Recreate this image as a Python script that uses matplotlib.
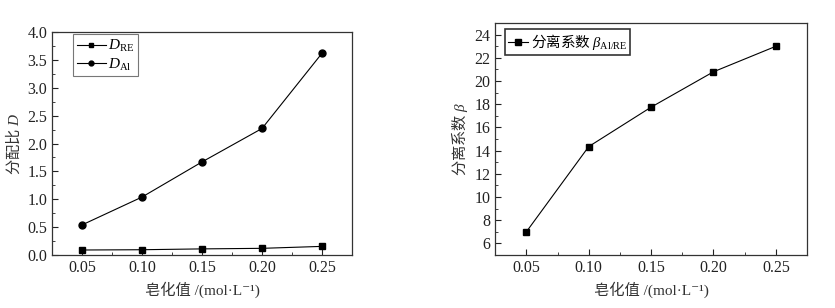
import matplotlib.pyplot as plt
from matplotlib.ticker import MultipleLocator

plt.rcParams['font.family'] = ['Liberation Serif', 'Noto Sans CJK SC', 'DejaVu Serif']
# mathtext: 斜体字母用 it，下标用 sf；含汉字的标签单独指定字体
plt.rcParams['mathtext.fontset'] = 'custom'
plt.rcParams['mathtext.rm'] = 'Liberation Serif'
plt.rcParams['mathtext.it'] = 'Liberation Serif:italic'
plt.rcParams['mathtext.sf'] = 'Liberation Serif'

# 皂化值
x = [0.05, 0.10, 0.15, 0.20, 0.25]
# 分配比
d_re = [0.09, 0.095, 0.11, 0.12, 0.155]
d_al = [0.54, 1.04, 1.67, 2.27, 3.62]
# 分离系数
beta = [7.0, 14.35, 17.75, 20.8, 23.0]

xticks = [0.05, 0.10, 0.15, 0.20, 0.25]
xticklabels = ['0.05', '0.10', '0.15', '0.20', '0.25']

fig = plt.figure(figsize=(8.35, 3.08), dpi=100)
ax1 = fig.add_axes([0.0623, 0.172, 0.3593, 0.724])
ax2 = fig.add_axes([0.593, 0.172, 0.3735, 0.753])

xlabel = '皂化值 /(mol·L⁻¹)'
cjk = 'Noto Sans CJK SC'

def style(ax):
    ax.set_xlim(0.025, 0.275)
    ax.set_xticks(xticks)
    ax.set_xticklabels(xticklabels)
    ax.xaxis.set_minor_locator(MultipleLocator(0.025))
    ax.tick_params(which='both', direction='in', labelsize=11.5, colors='#222222')
    ax.tick_params(which='major', length=4)
    ax.tick_params(which='minor', length=2.5)
    for s in ax.spines.values():
        s.set_linewidth(0.9)
        s.set_color('#333333')
    ax.set_xlabel(xlabel, fontsize=11, color='#333333', labelpad=4)

# 左图
ax1.plot(x, d_re, '-s', color='black', lw=0.8, ms=4.5, label='$D_{\\mathsf{RE}}$')
ax1.plot(x, d_al, '-o', color='black', lw=0.8, ms=5, label='$D_{\\mathsf{Al}}$')
style(ax1)
ax1.set_ylim(0, 4.0)
ax1.yaxis.set_major_locator(MultipleLocator(0.5))
ax1.yaxis.set_minor_locator(MultipleLocator(0.25))
ax1.yaxis.set_major_formatter(lambda v, p: f'{v:.1f}')
ax1.set_ylabel('分配比 $D$', family=cjk, fontsize=11, color='#333333', labelpad=3)
leg1 = ax1.legend(loc='upper left', bbox_to_anchor=(0.07, 0.99), fontsize=11,
                  frameon=True, fancybox=False, edgecolor='#555555',
                  handlelength=1.9, handletextpad=0.15, borderpad=0.25,
                  labelspacing=0.15, markerscale=0.7, borderaxespad=0)
leg1.get_frame().set_linewidth(0.8)

# 右图
ax2.plot(x, beta, '-s', color='black', lw=0.8, ms=5, label='分离系数 $\\beta_{\\mathsf{Al/RE}}$')
style(ax2)
ax2.set_ylim(5, 25)
ax2.set_yticks([6, 8, 10, 12, 14, 16, 18, 20, 22, 24])
ax2.yaxis.set_minor_locator(MultipleLocator(1))
ax2.set_ylabel('分离系数 $\\beta$', family=cjk, fontsize=11, color='#333333', labelpad=3)
leg2 = ax2.legend(loc='upper left', bbox_to_anchor=(0.032, 0.974),
                  prop={'family': cjk, 'size': 10.5},
                  frameon=True, fancybox=False, edgecolor='black',
                  handlelength=1.4, handletextpad=0.15, borderpad=0.2,
                  markerscale=0.8, borderaxespad=0)
leg2.get_frame().set_linewidth(1.2)

fig.savefig('out.png', dpi=100)
